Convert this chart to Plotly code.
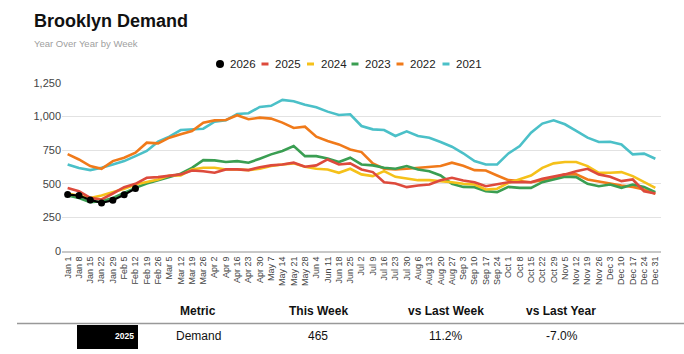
import plotly.graph_objects as go

weeks = ["Jan 1", "Jan 8", "Jan 15", "Jan 22", "Jan 29", "Feb 5", "Feb 12", "Feb 19", "Feb 26",
         "Mar 5", "Mar 12", "Mar 19", "Mar 26", "Apr 2", "Apr 9", "Apr 16", "Apr 23", "Apr 30",
         "May 7", "May 14", "May 21", "May 28", "Jun 4", "Jun 11", "Jun 18", "Jun 25", "Jul 2",
         "Jul 9", "Jul 16", "Jul 23", "Jul 30", "Aug 6", "Aug 13", "Aug 20", "Aug 27", "Sep 3",
         "Sep 10", "Sep 17", "Sep 24", "Oct 1", "Oct 8", "Oct 15", "Oct 22", "Oct 29", "Nov 5",
         "Nov 12", "Nov 19", "Nov 26", "Dec 3", "Dec 10", "Dec 17", "Dec 24", "Dec 31"]

y2026 = [420, 413, 380, 358, 378, 418, 465]

y2025 = [468, 445, 395, 383, 428, 475, 500, 545, 550, 562, 570, 599, 594, 582, 607, 607, 602, 623,
         637, 644, 657, 627, 637, 681, 644, 652, 607, 587, 512, 502, 475, 487, 495, 527, 545, 524,
         512, 482, 495, 512, 512, 512, 537, 552, 570, 594, 612, 570, 552, 520, 532, 445, 428]

y2024 = [428, 413, 395, 413, 438, 463, 495, 512, 532, 562, 562, 607, 619, 619, 607, 607, 602, 613,
         632, 644, 652, 627, 612, 607, 582, 612, 570, 557, 594, 552, 537, 527, 527, 520, 512, 500,
         495, 458, 463, 507, 532, 562, 619, 652, 662, 662, 632, 582, 582, 587, 557, 512, 470]

y2023 = [413, 395, 363, 370, 395, 433, 470, 502, 527, 552, 575, 619, 676, 674, 662, 669, 657, 687,
         719, 744, 781, 706, 706, 689, 662, 694, 644, 637, 619, 612, 632, 607, 594, 562, 500, 477,
         475, 445, 438, 477, 470, 470, 512, 532, 552, 550, 500, 482, 495, 470, 495, 477, 438]

y2022 = [721, 681, 632, 612, 669, 694, 731, 806, 801, 843, 868, 893, 955, 972, 975, 1010, 980, 992,
         985, 955, 915, 925, 851, 818, 793, 756, 736, 652, 612, 607, 612, 619, 627, 632, 657, 634,
         602, 599, 562, 527, 520, 512, 527, 545, 570, 570, 532, 515, 502, 487, 477, 458, 425]

y2021 = [644, 617, 602, 619, 644, 669, 706, 744, 813, 851, 900, 905, 910, 962, 972, 1020, 1025, 1072,
         1080, 1124, 1114, 1089, 1069, 1037, 1012, 1017, 930, 905, 900, 856, 890, 856, 843, 811, 776, 727,
         669, 644, 644, 726, 781, 880, 948, 972, 943, 893, 843, 811, 813, 793, 719, 724, 686]

series = [("2021", y2021, "#4bc0c8"), ("2022", y2022, "#f07a1a"), ("2023", y2023, "#3a9e52"),
          ("2024", y2024, "#f5c11a"), ("2025", y2025, "#dd4a3c")]

# plot area in pixels
PL, PR, PT, PB = 62, 661, 83, 251
W, H = 684, 354


def px(x):
    return (x - PL) / (PR - PL)


def py(y):
    return (PB - y) / (PB - PT)


fig = go.Figure()
for name, vals, col in series:
    fig.add_trace(go.Scatter(x=weeks, y=vals, mode="lines", name=name,
                             line=dict(color=col, width=2.6), showlegend=False))
fig.add_trace(go.Scatter(x=weeks[:len(y2026)], y=y2026, mode="lines+markers", name="2026",
                         line=dict(color="black", width=2.2),
                         marker=dict(color="black", size=7), showlegend=False))

font = "Arial, Liberation Sans, sans-serif"
annotations = []
shapes = []

# title and subtitle
annotations.append(dict(x=px(32), y=py(21), xref="paper", yref="paper", text="<b>Brooklyn Demand</b>",
                        showarrow=False, xanchor="left", yanchor="middle",
                        font=dict(family=font, size=18, color="#111")))
annotations.append(dict(x=px(32), y=py(44), xref="paper", yref="paper", text="Year Over Year by Week",
                        showarrow=False, xanchor="left", yanchor="middle",
                        font=dict(family=font, size=9.5, color="#a0a0a0")))

# legend (manual, compact)
leg = [("2026", "black", 220, "dot"), ("2025", "#dd4a3c", 265, "line"), ("2024", "#f5c11a", 310.5, "line"),
       ("2023", "#3a9e52", 355, "line"), ("2022", "#f07a1a", 400, "line"), ("2021", "#4bc0c8", 446, "line")]
LY = 64
for name, col, cx, kind in leg:
    if kind == "dot":
        shapes.append(dict(type="circle", xref="paper", yref="paper", x0=px(cx - 4), x1=px(cx + 4),
                           y0=py(LY + 4), y1=py(LY - 4), fillcolor=col, line=dict(width=0)))
    else:
        shapes.append(dict(type="line", xref="paper", yref="paper", x0=px(cx - 3.5), x1=px(cx + 3.5),
                           y0=py(LY), y1=py(LY), line=dict(color=col, width=3)))
    annotations.append(dict(x=px(cx + 8), y=py(LY), xref="paper", yref="paper", text=name,
                            showarrow=False, xanchor="left", yanchor="middle",
                            font=dict(family=font, size=11.5, color="#222")))

# table
headers = [("Metric", 198), ("This Week", 318), ("vs Last Week", 446), ("vs Last Year", 561)]
row = [("Demand", 198), ("465", 318), ("11.2%", 445), ("-7.0%", 562)]
for t, cx in headers:
    annotations.append(dict(x=px(cx), y=py(311), xref="paper", yref="paper", text="<b>" + t + "</b>",
                            showarrow=False, xanchor="center", yanchor="middle",
                            font=dict(family=font, size=12, color="#111")))
for t, cx in row:
    annotations.append(dict(x=px(cx), y=py(336), xref="paper", yref="paper", text=t,
                            showarrow=False, xanchor="center", yanchor="middle",
                            font=dict(family=font, size=12, color="#111")))
shapes.append(dict(type="line", xref="paper", yref="paper", x0=px(17), x1=px(684), y0=py(323.5), y1=py(323.5),
                   line=dict(color="#999", width=1.5)))
shapes.append(dict(type="rect", xref="paper", yref="paper", x0=px(77), x1=px(138), y0=py(349), y1=py(325),
                   fillcolor="black", line=dict(width=0)))
annotations.append(dict(x=px(136), y=py(336), xref="paper", yref="paper", text="<b>2025</b>",
                        showarrow=False, xanchor="right", yanchor="middle",
                        font=dict(family=font, size=8.5, color="white")))

fig.update_layout(
    width=W, height=H,
    margin=dict(l=PL, r=W - PR, t=PT, b=H - PB),
    paper_bgcolor="white", plot_bgcolor="white",
    font=dict(family=font, color="#444"),
    showlegend=False,
    annotations=annotations, shapes=shapes,
    xaxis=dict(type="category", range=[-0.5, 52.5], tickangle=-90, showgrid=False,
               tickfont=dict(size=9, color="#444"), showline=True, linecolor="#c8c8c8", linewidth=2,
               ticks="", fixedrange=True),
    yaxis=dict(range=[0, 1250], dtick=250, tickformat=",", showgrid=True, gridcolor="#e2e2e2",
               gridwidth=1, zeroline=False, showline=False, ticks="", tickfont=dict(size=11, color="#444"),
               fixedrange=True),
)

fig.write_html("out.html")
